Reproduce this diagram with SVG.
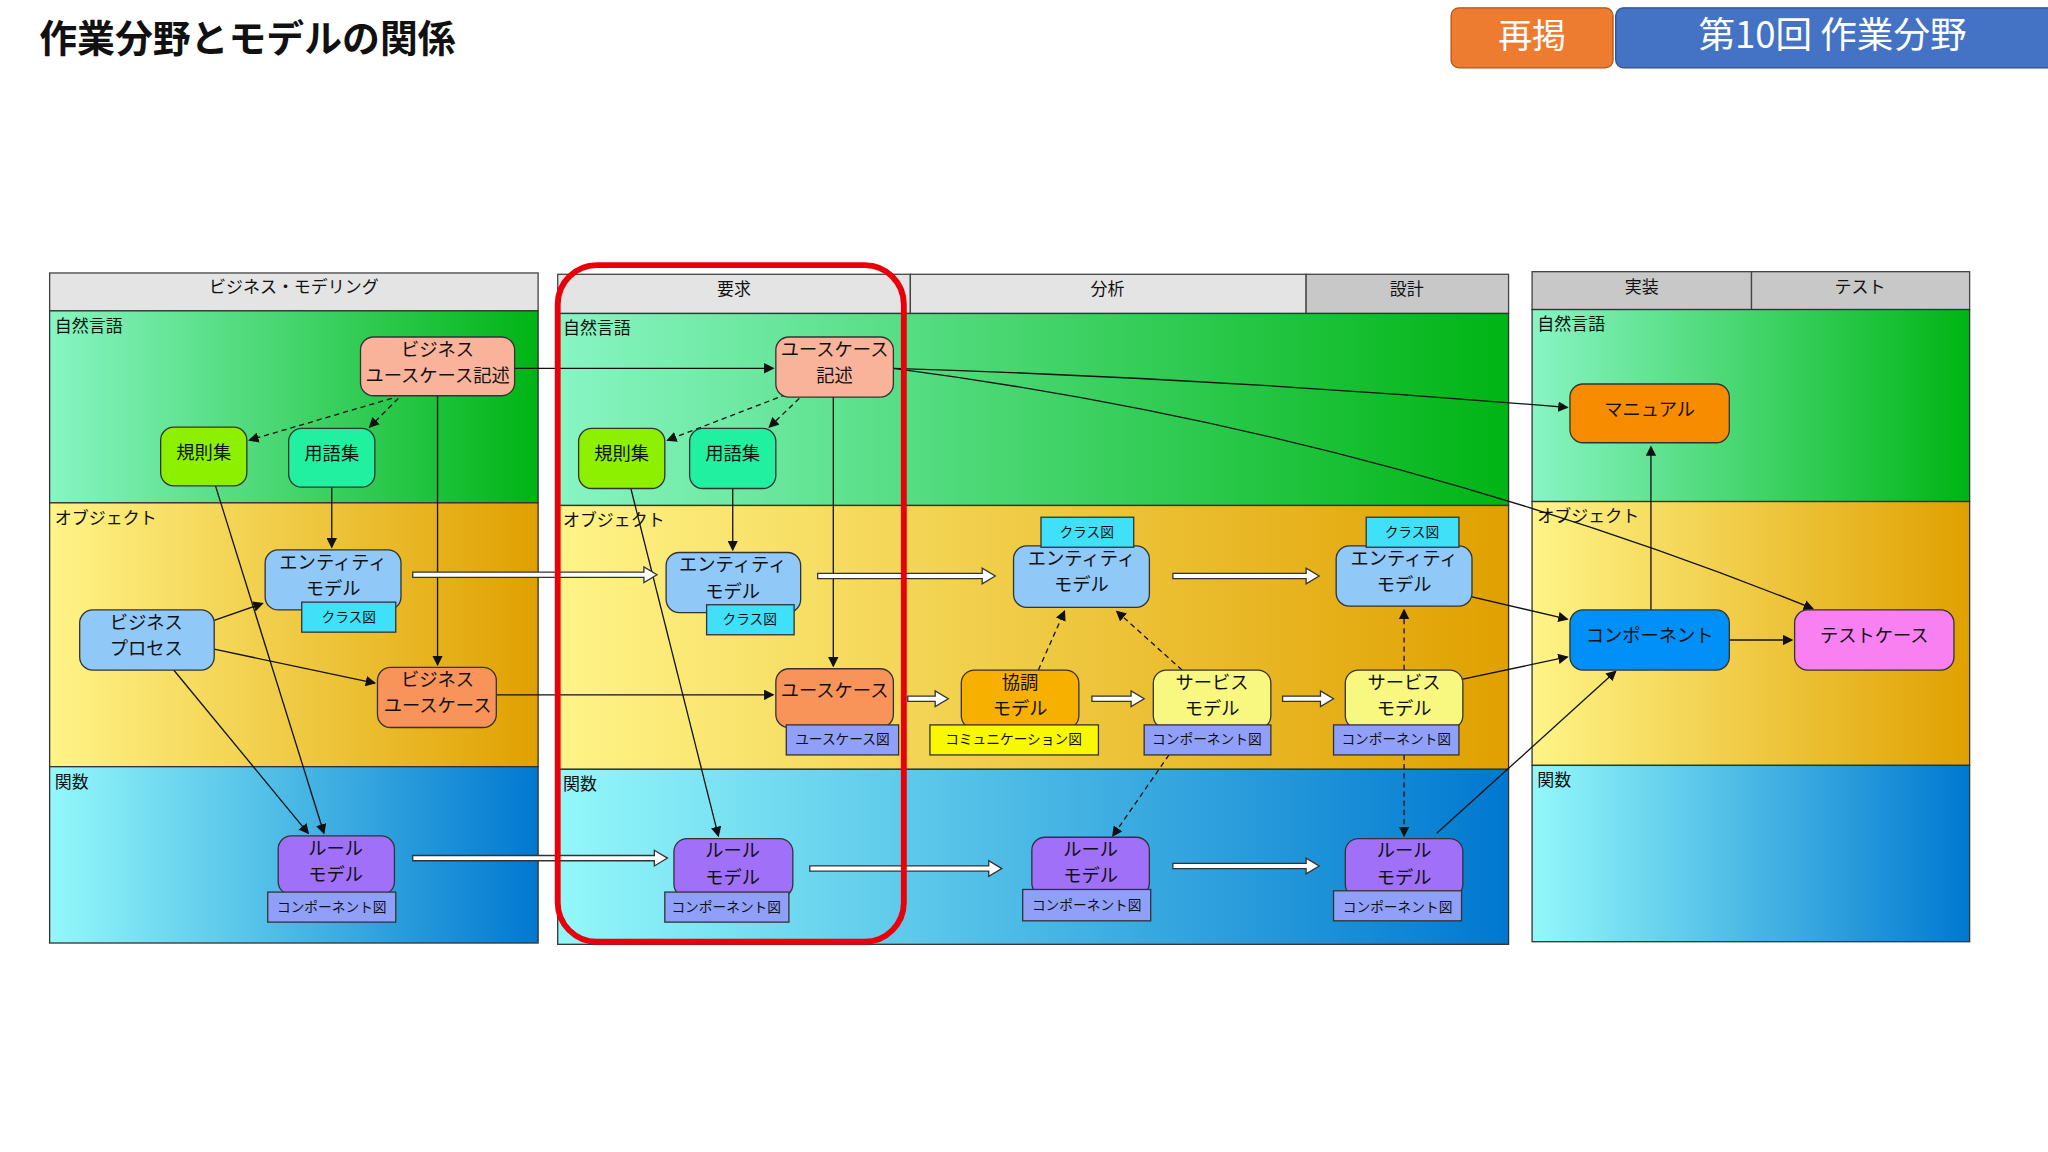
<svg xmlns="http://www.w3.org/2000/svg" width="2048" height="1152" viewBox="0 0 2048 1152">
<defs>
<linearGradient id="gG" x1="0" x2="1" y1="0" y2="0"><stop offset="0" stop-color="#88f5c4"/><stop offset="1" stop-color="#00b414"/></linearGradient>
<linearGradient id="gY" x1="0" x2="1" y1="0" y2="0"><stop offset="0" stop-color="#fff488"/><stop offset="1" stop-color="#e0a000"/></linearGradient>
<linearGradient id="gB" x1="0" x2="1" y1="0" y2="0"><stop offset="0" stop-color="#94f8fa"/><stop offset="1" stop-color="#0078d0"/></linearGradient>
<marker id="ah" markerWidth="8" markerHeight="8" refX="7" refY="4" orient="auto" markerUnits="userSpaceOnUse"><path d="M0,0 L8,4 L0,8 z" fill="#111"/></marker>
<style>
text{font-family:"Noto Sans CJK JP","Noto Sans",sans-serif;fill:#111}
.hd{fill:#e4e4e4;stroke:#444;stroke-width:1}
.hd2{fill:#c8c8c8;stroke:#444;stroke-width:1}
.bd{stroke:#333;stroke-width:1}
.ht{font-size:13px;text-anchor:middle}
.bl{font-size:13px}
.n{stroke:#333;stroke-width:1}
.nt{font-size:14px;text-anchor:middle;transform:translateY(-3.5px)}
.st{font-size:10.5px;text-anchor:middle}
.c{fill:none;stroke:#111;stroke-width:1;marker-end:url(#ah)}
.d{fill:none;stroke:#111;stroke-width:1;stroke-dasharray:4 3;marker-end:url(#ah)}
.bk{fill:#fff;stroke:#333;stroke-width:1}
</style>
</defs>
<rect width="2048" height="1152" fill="#fff"/>
<g transform="scale(1.30612)">
<text x="30" y="40" style="font-size:29px;font-weight:bold">作業分野とモデルの関係</text>
<rect x="1111" y="6" width="124" height="46" rx="6" fill="#ee7c30" stroke="#b0561c"/>
<text x="1173" y="37" style="font-size:26px;fill:#fff;text-anchor:middle">再掲</text>
<rect x="1237" y="6" width="340" height="46" rx="6" fill="#4472c4" stroke="#2f528f"/>
<text x="1403" y="37" style="font-size:28px;fill:#fff;text-anchor:middle">第10回 作業分野</text>

<g id="panel1">
<rect class="hd" x="38" y="209" width="374" height="29"/>
<text class="ht" x="225" y="224">ビジネス・モデリング</text>
<rect class="bd" x="38" y="238" width="374" height="147" fill="url(#gG)"/>
<rect class="bd" x="38" y="385" width="374" height="202" fill="url(#gY)"/>
<rect class="bd" x="38" y="587" width="374" height="135" fill="url(#gB)"/>
<text class="bl" x="42" y="254">自然言語</text><text class="bl" x="42" y="401">オブジェクト</text><text class="bl" x="42" y="603">関数</text>
</g>
<g id="panel2">
<rect class="hd" x="427" y="210" width="270" height="30"/>
<rect class="hd" x="697" y="210" width="303" height="30"/>
<rect class="hd2" x="1000" y="210" width="155" height="30"/>
<text class="ht" x="562" y="226">要求</text><text class="ht" x="848" y="226">分析</text><text class="ht" x="1077" y="226">設計</text>
<rect class="bd" x="427" y="240" width="728" height="147" fill="url(#gG)"/>
<rect class="bd" x="427" y="387" width="728" height="202" fill="url(#gY)"/>
<rect class="bd" x="427" y="589" width="728" height="134" fill="url(#gB)"/>
<text class="bl" x="431" y="256">自然言語</text><text class="bl" x="431" y="403">オブジェクト</text><text class="bl" x="431" y="605">関数</text>
</g>
<g id="panel3">
<rect class="hd2" x="1173" y="208" width="168" height="29"/>
<rect class="hd2" x="1341" y="208" width="167" height="29"/>
<text class="ht" x="1257" y="224">実装</text><text class="ht" x="1424" y="224">テスト</text>
<rect class="bd" x="1173" y="237" width="335" height="147" fill="url(#gG)"/>
<rect class="bd" x="1173" y="384" width="335" height="202" fill="url(#gY)"/>
<rect class="bd" x="1173" y="586" width="335" height="135" fill="url(#gB)"/>
<text class="bl" x="1177" y="253">自然言語</text><text class="bl" x="1177" y="400">オブジェクト</text><text class="bl" x="1177" y="602">関数</text>
</g>

<g id="connectors">
<path class="c" d="M394,282 L592,282"/>
<path class="d" d="M300,305 L191,337"/>
<path class="d" d="M305,305 L283,327"/>
<path class="c" d="M335,303 L335,509"/>
<path class="c" d="M165,372 L248,638"/>
<path class="c" d="M254,373 L254,419"/>
<path class="c" d="M164,475 L201,462"/>
<path class="c" d="M164,497 L287,523"/>
<path class="c" d="M133,513 L236,638"/>
<path class="c" d="M380,532 L592,532"/>
<path class="d" d="M602,302 L511,337"/>
<path class="d" d="M612,305 L589,327"/>
<path class="c" d="M483,374 L550,640"/>
<path class="c" d="M561,374 L561,421"/>
<path class="c" d="M638,304 L638,510"/>
<path class="c" d="M684,282 Q940,290 1200,312"/>
<path class="c" d="M684,282 Q1050,330 1388,466"/>
<path class="d" d="M795,513 L815,468"/>
<path class="d" d="M905,513 L855,468"/>
<path class="d" d="M895,578 L852,640"/>
<path class="d" d="M1075,513 L1075,467"/>
<path class="d" d="M1075,578 L1075,640"/>
<path class="c" d="M1127,457 L1200,474"/>
<path class="c" d="M1120,520 L1200,503"/>
<path class="c" d="M1100,638 L1237,514"/>
<path class="c" d="M1264,467 L1264,342"/>
<path class="c" d="M1324,490 L1372,490"/>
<g id="blocks">
<path class="bk" d="M316,438 L493,438 L493,434 L503,440 L493,446 L493,442 L316,442 z"/>
<path class="bk" d="M316,655 L501,655 L501,651 L511,657 L501,663 L501,659 L316,659 z"/>
<path class="bk" d="M626,439 L752,439 L752,435 L762,441 L752,447 L752,443 L626,443 z"/>
<path class="bk" d="M620,663 L757,663 L757,659 L767,665 L757,671 L757,667 L620,667 z"/>
<path class="bk" d="M898,439 L1000,439 L1000,435 L1010,441 L1000,447 L1000,443 L898,443 z"/>
<path class="bk" d="M898,661 L1000,661 L1000,657 L1010,663 L1000,669 L1000,665 L898,665 z"/>
<path class="bk" d="M695,533 L716,533 L716,529 L726,535 L716,541 L716,537 L695,537 z"/>
<path class="bk" d="M836,533 L866,533 L866,529 L876,535 L866,541 L866,537 L836,537 z"/>
<path class="bk" d="M982,533 L1011,533 L1011,529 L1021,535 L1011,541 L1011,537 L982,537 z"/>
</g>
</g>

<g id="n1"><rect class="n" x="276" y="258" width="118" height="45" rx="10" fill="#f9b39b"/><text class="nt" x="335" y="276">ビジネス</text><text class="nt" x="335" y="296">ユースケース記述</text></g>
<g id="n2"><rect class="n" x="123" y="327" width="66" height="45" rx="10" fill="#8cf000"/><text class="nt" x="156" y="355">規則集</text></g>
<g id="n3"><rect class="n" x="221" y="328" width="66" height="45" rx="10" fill="#20f0a0"/><text class="nt" x="254" y="356">用語集</text></g>
<g id="n4"><rect class="n" x="203" y="421" width="104" height="46" rx="10" fill="#90c8f8"/><text class="nt" x="255" y="439">エンティティ</text><text class="nt" x="255" y="459">モデル</text>
<rect class="n" x="231" y="461" width="72" height="23" fill="#40e0f8"/><text class="st" x="267" y="476">クラス図</text></g>
<g id="n5"><rect class="n" x="61" y="467" width="103" height="46" rx="10" fill="#90c8f8"/><text class="nt" x="112" y="485">ビジネス</text><text class="nt" x="112" y="505">プロセス</text></g>
<g id="n6"><rect class="n" x="289" y="511" width="91" height="46" rx="10" fill="#f8935a"/><text class="nt" x="335" y="529">ビジネス</text><text class="nt" x="335" y="549">ユースケース</text></g>
<g id="n7"><rect class="n" x="213" y="640" width="89" height="45" rx="10" fill="#a070f8"/><text class="nt" x="257" y="658">ルール</text><text class="nt" x="257" y="678">モデル</text>
<rect class="n" x="205" y="683" width="98" height="23" fill="#90a0f8"/><text class="st" x="254" y="698">コンポーネント図</text></g>

<g id="m1"><rect class="n" x="594" y="258" width="90" height="46" rx="10" fill="#f9b39b"/><text class="nt" x="639" y="276">ユースケース</text><text class="nt" x="639" y="296">記述</text></g>
<g id="m2"><rect class="n" x="443" y="328" width="66" height="46" rx="10" fill="#8cf000"/><text class="nt" x="476" y="356">規則集</text></g>
<g id="m3"><rect class="n" x="528" y="328" width="66" height="46" rx="10" fill="#20f0a0"/><text class="nt" x="561" y="356">用語集</text></g>
<g id="m4"><rect class="n" x="510" y="423" width="103" height="46" rx="10" fill="#90c8f8"/><text class="nt" x="561" y="441">エンティティ</text><text class="nt" x="561" y="461">モデル</text>
<rect class="n" x="541" y="463" width="67" height="23" fill="#40e0f8"/><text class="st" x="574" y="478">クラス図</text></g>
<g id="m5"><rect class="n" x="594" y="512" width="90" height="45" rx="10" fill="#f8935a"/><text class="nt" x="639" y="537">ユースケース</text>
<rect class="n" x="602" y="555" width="86" height="23" fill="#90a0f8"/><text class="st" x="645" y="570">ユースケース図</text></g>
<g id="m6"><rect class="n" x="516" y="642" width="91" height="45" rx="10" fill="#a070f8"/><text class="nt" x="561" y="660">ルール</text><text class="nt" x="561" y="680">モデル</text>
<rect class="n" x="509" y="683" width="95" height="23" fill="#90a0f8"/><text class="st" x="556" y="698">コンポーネント図</text></g>

<g id="a1"><rect class="n" x="776" y="418" width="104" height="47" rx="10" fill="#90c8f8"/><text class="nt" x="828" y="436">エンティティ</text><text class="nt" x="828" y="456">モデル</text>
<rect class="n" x="797" y="396" width="71" height="23" fill="#40e0f8"/><text class="st" x="832" y="411">クラス図</text></g>
<g id="a2"><rect class="n" x="736" y="513" width="90" height="45" rx="10" fill="#f8b000"/><text class="nt" x="781" y="531">協調</text><text class="nt" x="781" y="551">モデル</text>
<rect class="n" x="712" y="555" width="129" height="23" fill="#f8f800"/><text class="st" x="776" y="570">コミュニケーション図</text></g>
<g id="a3"><rect class="n" x="883" y="513" width="90" height="45" rx="10" fill="#f8f880"/><text class="nt" x="928" y="531">サービス</text><text class="nt" x="928" y="551">モデル</text>
<rect class="n" x="876" y="555" width="97" height="23" fill="#90a0f8"/><text class="st" x="924" y="570">コンポーネント図</text></g>
<g id="a4"><rect class="n" x="790" y="641" width="90" height="45" rx="10" fill="#a070f8"/><text class="nt" x="835" y="659">ルール</text><text class="nt" x="835" y="679">モデル</text>
<rect class="n" x="783" y="681" width="98" height="24" fill="#90a0f8"/><text class="st" x="832" y="697">コンポーネント図</text></g>

<g id="d1"><rect class="n" x="1023" y="418" width="104" height="46" rx="10" fill="#90c8f8"/><text class="nt" x="1075" y="436">エンティティ</text><text class="nt" x="1075" y="456">モデル</text>
<rect class="n" x="1046" y="396" width="71" height="23" fill="#40e0f8"/><text class="st" x="1081" y="411">クラス図</text></g>
<g id="d2"><rect class="n" x="1030" y="513" width="90" height="45" rx="10" fill="#f8f880"/><text class="nt" x="1075" y="531">サービス</text><text class="nt" x="1075" y="551">モデル</text>
<rect class="n" x="1021" y="555" width="96" height="23" fill="#90a0f8"/><text class="st" x="1069" y="570">コンポーネント図</text></g>
<g id="d3"><rect class="n" x="1030" y="642" width="90" height="45" rx="10" fill="#a070f8"/><text class="nt" x="1075" y="660">ルール</text><text class="nt" x="1075" y="680">モデル</text>
<rect class="n" x="1021" y="682" width="98" height="23" fill="#90a0f8"/><text class="st" x="1070" y="698">コンポーネント図</text></g>

<g id="i1"><rect class="n" x="1202" y="294" width="122" height="45" rx="10" fill="#f88c00"/><text class="nt" x="1263" y="322">マニュアル</text></g>
<g id="i2"><rect class="n" x="1202" y="467" width="122" height="46" rx="10" fill="#0090f8"/><text class="nt" x="1263" y="495">コンポーネント</text></g>
<g id="t1"><rect class="n" x="1374" y="467" width="122" height="46" rx="10" fill="#f880f0"/><text class="nt" x="1435" y="495">テストケース</text></g>

<rect x="427" y="203" width="265" height="518" rx="30" fill="none" stroke="#e8000a" stroke-width="4.5"/>
</g>
</svg>
